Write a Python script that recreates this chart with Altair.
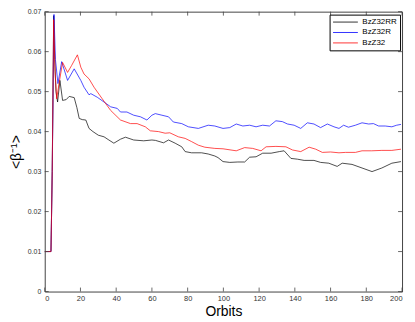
import altair as alt
import pandas as pd

# ---- data ----
rr_orbit = [0, 3.5, 4.2, 5.0, 5.6, 6.3, 7.2, 8.5, 10, 12, 13.7, 16.5, 18, 19.3, 21, 23, 24.8, 27, 30,
            33.2, 35.9, 38.7, 42.4, 45.2, 49.8, 55.4, 60, 62, 66.5, 69.3, 73, 76.7, 78.6, 82.2, 87.8,
            91.5, 95.2, 97, 99.8, 103.6, 108.1, 111.9, 114.7, 118.3, 122, 126.7, 131.3, 134, 137.8,
            141.5, 145.2, 150.7, 154.4, 159, 163.7, 166.5, 172, 177.6, 183.2, 188.7, 194.3, 199.4]
rr_value = [0.01, 0.01, 0.03, 0.069, 0.058, 0.05, 0.0474, 0.0528, 0.0478, 0.048, 0.0488, 0.0485,
            0.046, 0.0433, 0.043, 0.0429, 0.0408, 0.040, 0.0391, 0.0387, 0.0379, 0.0371, 0.0381,
            0.0386, 0.0379, 0.0377, 0.0379, 0.0378, 0.0372, 0.0379, 0.0371, 0.0362, 0.035, 0.0347,
            0.0347, 0.0344, 0.0339, 0.0335, 0.0325, 0.0323, 0.0324, 0.0324, 0.0336, 0.0337, 0.0346,
            0.0346, 0.035, 0.0352, 0.0333, 0.0331, 0.0328, 0.0328, 0.0323, 0.0321, 0.0313, 0.0321,
            0.0318, 0.0309, 0.030, 0.0309, 0.0321, 0.0325]

r_orbit = [0, 3.5, 4.2, 5.2, 6.0, 7.4, 9.5, 12.8, 16.5, 20.2, 22, 24.8, 25.8, 29.4, 33.2, 36.9, 40.6,
           42.4, 46, 49.8, 53.6, 57.2, 60, 61.9, 65.6, 69.3, 72, 76.7, 80.4, 86, 91.5, 95.2, 99.8,
           103.6, 107.2, 110.9, 114.7, 118.3, 122, 125.8, 129.4, 133, 135.9, 139.6, 143.3, 147,
           150.7, 154.4, 158.2, 161.9, 164.7, 167.3, 170, 173.9, 177.6, 181.3, 184, 186.9, 190.6,
           194.3, 197, 199.4]
r_value = [0.01, 0.01, 0.03, 0.0693, 0.058, 0.052, 0.0575, 0.0528, 0.0557, 0.0528, 0.0511, 0.0492,
           0.0495, 0.0486, 0.0474, 0.0462, 0.0458, 0.0449, 0.0449, 0.0441, 0.0437, 0.0429, 0.0441,
           0.0445, 0.0441, 0.0437, 0.0424, 0.042, 0.0412, 0.0408, 0.0416, 0.0414, 0.0408, 0.041,
           0.0419, 0.0414, 0.0416, 0.0412, 0.0416, 0.0414, 0.0427, 0.0425, 0.0419, 0.0416, 0.0408,
           0.0422, 0.0419, 0.041, 0.0419, 0.0412, 0.0408, 0.0416, 0.0411, 0.0416, 0.0422, 0.0419,
           0.042, 0.0414, 0.0414, 0.0412, 0.0416, 0.0418]

b_orbit = [0, 3.5, 4.2, 5.0, 5.8, 6.7, 8, 10, 12.8, 15, 18.3, 20.2, 22, 24.8, 27.6, 32.2, 36.9, 42.4,
           48, 51.7, 56.3, 59.1, 63.7, 67.4, 70, 74.8, 78.6, 82.2, 86, 89.6, 95.2, 99.8, 107.2, 111.9,
           116.4, 121.1, 123.9, 129.4, 135, 138.7, 143.3, 148, 151.7, 155.4, 160, 164.7, 168.4,
           173.9, 177.6, 183, 188.7, 194.3, 199.4]
b_value = [0.01, 0.01, 0.03, 0.068, 0.055, 0.0482, 0.052, 0.0573, 0.0548, 0.0565, 0.0592, 0.0561,
           0.0544, 0.0532, 0.0511, 0.0482, 0.0453, 0.0429, 0.042, 0.042, 0.0412, 0.0402, 0.04,
           0.0396, 0.0397, 0.0387, 0.0383, 0.0375, 0.0366, 0.0361, 0.0358, 0.0357, 0.0352, 0.036,
           0.0358, 0.0352, 0.0362, 0.0363, 0.0362, 0.0354, 0.035, 0.0361, 0.0356, 0.0348, 0.0349,
           0.0347, 0.0348, 0.0348, 0.0352, 0.0352, 0.0353, 0.0353, 0.0356]

series_names = ["BzZ32RR", "BzZ32R", "BzZ32"]
series_colors = ["#000000", "#0000ff", "#ff0000"]
x_ticks = [0, 20, 40, 60, 80, 100, 120, 140, 160, 180, 200]
y_ticks = [0, 0.01, 0.02, 0.03, 0.04, 0.05, 0.06, 0.07]

W, H = 360, 282
FONT = "Liberation Sans"

rows = []
for name, xs, ys in zip(series_names, [rr_orbit, r_orbit, b_orbit], [rr_value, r_value, b_value]):
    for i, (xv, yv) in enumerate(zip(xs, ys)):
        rows.append({"series": name, "orbit": xv, "value": yv, "order": i})
df = pd.DataFrame(rows)

xscale = alt.Scale(domain=[0, 200], nice=False, zero=False)
yscale = alt.Scale(domain=[0, 0.07], nice=False, zero=False)

lines = alt.Chart(df).mark_line(strokeWidth=0.7, clip=True).encode(
    x=alt.X("orbit:Q", scale=xscale,
            axis=alt.Axis(title="Orbits", values=x_ticks, ticks=False, domain=False, grid=False,
                          labelFont=FONT, labelFontSize=7.5, labelColor="#333", labelPadding=3,
                          titleFont=FONT, titleFontSize=14, titleFontWeight="normal",
                          titleColor="#000", titlePadding=3)),
    y=alt.Y("value:Q", scale=yscale,
            axis=alt.Axis(title="<β⁻¹>", values=y_ticks, ticks=False, domain=False, grid=False,
                          labelExpr="datum.value == 0 ? '0' : format(datum.value, '.2f')",
                          labelFont=FONT, labelFontSize=7, labelColor="#333", labelPadding=4,
                          titleFont=FONT, titleFontSize=14, titleFontWeight="normal",
                          titleColor="#000", titlePadding=4)),
    color=alt.Color("series:N", scale=alt.Scale(domain=series_names, range=series_colors),
                    legend=alt.Legend(title=None, orient="none", legendX=287, legendY=3,
                                      symbolType="M-1,0H5.25", symbolSize=64, symbolStrokeWidth=0.8,
                                      labelFont=FONT, labelFontSize=8, labelColor="#000",
                                      labelOffset=21, rowPadding=1.5, padding=3,
                                      strokeColor="#000", fillColor="#fff")),
    order="order:Q",
    detail="series:N",
)

tick_df_x = pd.DataFrame({"tx": x_ticks})
tick_df_y = pd.DataFrame({"ty": y_ticks})
TL = 4
xt_bot = alt.Chart(tick_df_x).mark_rule(color="#444", strokeWidth=0.8).encode(
    x=alt.X("tx:Q", scale=xscale, axis=None), y=alt.value(H), y2=alt.value(H - TL))
xt_top = alt.Chart(tick_df_x).mark_rule(color="#444", strokeWidth=0.8).encode(
    x=alt.X("tx:Q", scale=xscale, axis=None), y=alt.value(0), y2=alt.value(TL))
yt_left = alt.Chart(tick_df_y).mark_rule(color="#444", strokeWidth=0.8).encode(
    y=alt.Y("ty:Q", scale=yscale, axis=None), x=alt.value(0), x2=alt.value(TL))
yt_right = alt.Chart(tick_df_y).mark_rule(color="#444", strokeWidth=0.8).encode(
    y=alt.Y("ty:Q", scale=yscale, axis=None), x=alt.value(W), x2=alt.value(W - TL))

chart = alt.layer(lines, xt_bot, xt_top, yt_left, yt_right).resolve_axis(
    x="independent", y="independent"
).properties(
    width=W, height=H,
    autosize=alt.AutoSizeParams(type="none"),
    padding={"left": 37, "top": 2.5, "right": 5, "bottom": 29},
    background="white",
).configure_view(stroke="#444", strokeWidth=1)

chart.save("out.html", embed_options={"renderer": "svg", "actions": False})
